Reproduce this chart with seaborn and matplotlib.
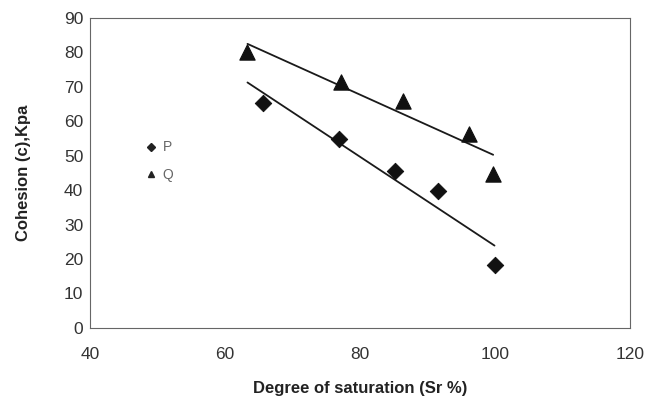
import numpy as np
import pandas as pd
import seaborn as sns
import matplotlib.pyplot as plt
from matplotlib.lines import Line2D

# degree of saturation (Sr %) and cohesion (kPa)
p_sr = [65.6, 76.8, 85.1, 91.5, 99.9]
p_c = [65.3, 54.7, 45.6, 39.8, 18.3]
q_sr = [63.3, 77.1, 86.4, 96.1, 99.7]
q_c = [80.0, 71.4, 66.0, 56.3, 44.7]

sns.set_style("white")
plt.rcParams['font.family'] = ['Liberation Sans', 'DejaVu Sans']

fig = plt.figure(figsize=(6.49, 4.16), dpi=100)
ax = fig.add_axes([0.139, 0.212, 0.832, 0.745])

df_p = pd.DataFrame({'Sr': p_sr, 'c': p_c})
df_q = pd.DataFrame({'Sr': q_sr, 'c': q_c})

# linear trend lines, both started at the lowest saturation of the data set
x_start = min(min(p_sr), min(q_sr))
for df in (df_p, df_q):
    slope, icpt = np.polyfit(df['Sr'], df['c'], 1)
    xs = np.array([x_start, df['Sr'].max()])
    sns.lineplot(x=xs, y=slope * xs + icpt, color='#1a1a1a', lw=1.3, ax=ax)

sns.scatterplot(data=df_p, x='Sr', y='c', marker='D', s=70, color='#111111',
                edgecolor='#111111', ax=ax, zorder=3)
sns.scatterplot(data=df_q, x='Sr', y='c', marker='^', s=120, color='#111111',
                edgecolor='#111111', ax=ax, zorder=3)

ax.set_xlim(40, 120)
ax.set_ylim(0, 90)
ax.set_xticks(range(40, 121, 20))
ax.set_yticks(range(0, 91, 10))
ax.tick_params(axis='both', labelsize=12.5, length=3, width=0.6, colors='#333333',
               direction='inout')
ax.tick_params(axis='x', pad=12)
for sp in ax.spines.values():
    sp.set_color('#666666')
    sp.set_linewidth(0.8)

ax.set_xlabel('Degree of saturation (Sr %)', fontsize=12, fontweight='bold',
              color='#222222', labelpad=14)
ax.set_ylabel('Cohesion (c),Kpa', fontsize=12, fontweight='bold',
              color='#222222', labelpad=24)

handles = [Line2D([], [], ls='none', marker='D', ms=4, color='#222222'),
           Line2D([], [], ls='none', marker='^', ms=5, color='#222222')]
leg = ax.legend(handles, ['P', 'Q'], loc='upper left', bbox_to_anchor=(0.08, 0.645),
                frameon=False, fontsize=10, handlelength=0.8, handletextpad=0.4,
                labelspacing=1.0)
for t in leg.get_texts():
    t.set_color('#666666')

fig.savefig('out.png', dpi=100)
